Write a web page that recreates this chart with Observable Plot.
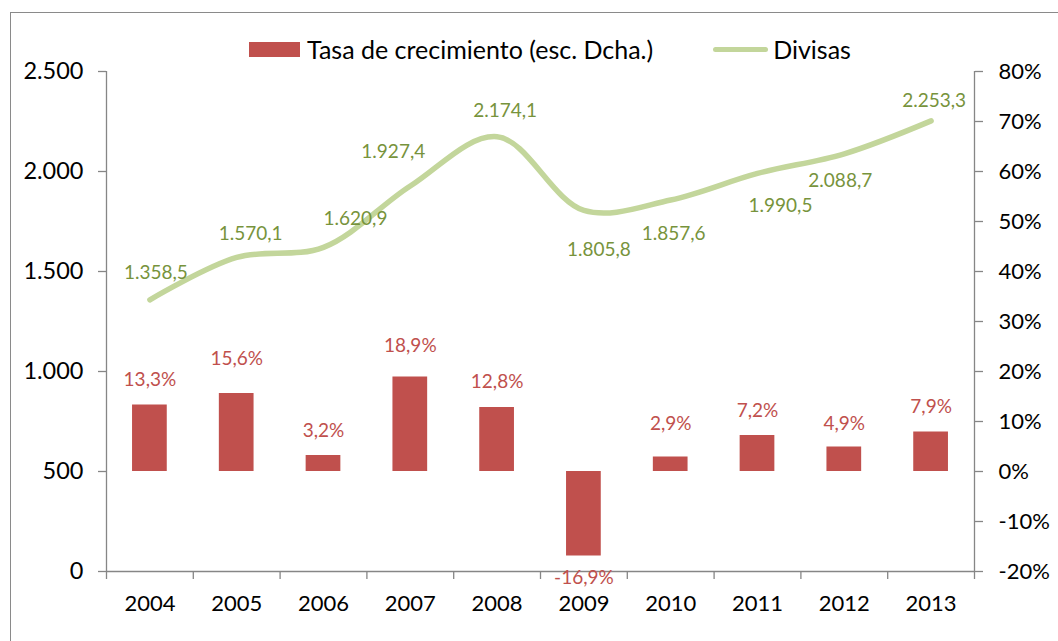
<!DOCTYPE html>
<html>
<head>
<meta charset="utf-8">
<script src="https://cdn.jsdelivr.net/npm/d3@7"></script>
<script src="https://cdn.jsdelivr.net/npm/@observablehq/plot@0.6"></script>
<style>
  html, body { margin: 0; padding: 0; background: #fff; overflow: hidden; }
  body { width: 1058px; height: 641px; position: relative; font-family: Lato, "Open Sans", sans-serif; }
  #frame { position: absolute; left: 10px; top: 12px; width: 1100px; height: 700px; border: 1.5px solid #8a8a8a; box-sizing: border-box; }
  #legend { position: absolute; left: 0; top: 33px; width: 1058px; height: 32px; display: flex; align-items: center; font-size: 25px; color: #000; }
  .sw { display: inline-block; }
  #chart { position: absolute; left: 0; top: 62px; }
</style>
</head>
<body>
<div id="frame"></div>
<div id="legend">
  <span class="sw" style="margin-left:249px;width:51px;height:15px;background:#c0504d;"></span>
  <span style="margin-left:7px;">Tasa de crecimiento (esc. Dcha.)</span>
  <span class="sw" style="margin-left:60px;width:55px;height:5px;border-radius:3px;background:#c3d69b;"></span>
  <span style="margin-left:5px;">Divisas</span>
</div>
<div id="chart"></div>
<script>
// ---- data ----
const years = [2004, 2005, 2006, 2007, 2008, 2009, 2010, 2011, 2012, 2013];
const divisas = [1358.5, 1570.1, 1620.9, 1927.4, 2174.1, 1805.8, 1857.6, 1990.5, 2088.7, 2253.3];
const tasa = [13.3, 15.6, 3.2, 18.9, 12.8, -16.9, 2.9, 7.2, 4.9, 7.9];
const leftTicks = [0, 500, 1000, 1500, 2000, 2500];
const rightTicks = [-20, -10, 0, 10, 20, 30, 40, 50, 60, 70, 80];

// ---- label layout (pixel offsets, not data) ----
const lineLabelOffsets = [[6,-27],[14,-24],[32,-28],[-17,-34],[8,-26],[15,40],[3,34],[23,33],[-4,27],[3,-20]];
const barLabelOffsets = [-25,-35,-25,-31,-26,22,-33,-25,-23,-25];

// right axis (%) mapped onto left-axis units: 0% -> 500, 10% -> 750
const pctToLeft = p => 500 + p * 25;
const leftToPct = v => (v - 500) / 25;

const fmtNum = v => v.toLocaleString("de-DE", {minimumFractionDigits: 1, maximumFractionDigits: 1});
const fmtInt = v => v.toLocaleString("de-DE");
const fmtPct = v => v.toLocaleString("de-DE", {minimumFractionDigits: 1, maximumFractionDigits: 1}) + "%";

const rows = years.map((y, i) => ({year: y, divisas: divisas[i], tasa: tasa[i], i}));
const boundaries = [years[0] - 0.5, ...years.map(y => y + 0.5)];

const axisColor = "#868686";
const red = "#c0504d";
const lightGreen = "#c3d69b";
const darkGreen = "#77933c";

const marks = [
  // bars
  Plot.rectY(rows, {x1: d => d.year - 0.2, x2: d => d.year + 0.2, y1: pctToLeft(0), y2: d => pctToLeft(d.tasa), fill: red}),
  // line
  Plot.line(rows, {x: "year", y: "divisas", stroke: lightGreen, strokeWidth: 5.5, curve: "catmull-rom", strokeLinecap: "round"}),
  // axes lines
  Plot.ruleX([boundaries[0]], {stroke: axisColor, strokeWidth: 1.3}),
  Plot.ruleX([boundaries[boundaries.length - 1]], {stroke: axisColor, strokeWidth: 1.3}),
  Plot.ruleY([0], {stroke: axisColor, strokeWidth: 1.3}),
  Plot.axisY({anchor: "left", ticks: leftTicks, tickFormat: fmtInt, tickSize: 8, tickPadding: 15, fontSize: 23.5, stroke: axisColor, strokeWidth: 1.3, color: "#000", label: null}),
  Plot.axisY({anchor: "right", ticks: rightTicks.map(pctToLeft), tickFormat: v => Math.round(leftToPct(v)) + "%", tickSize: 8, tickPadding: 16, fontSize: 22, stroke: axisColor, strokeWidth: 1.3, label: null}),
  Plot.axisX({ticks: boundaries, tickSize: 8, tickFormat: () => "", stroke: axisColor, strokeWidth: 1.3, label: null}),
  Plot.axisX({ticks: years, tickSize: 0, tickPadding: 24, tickFormat: d => String(d), fontSize: 22, label: null}),
];

// value labels
rows.forEach((d, i) => {
  marks.push(Plot.text([d], {x: "year", y: "divisas", text: r => fmtNum(r.divisas), dx: lineLabelOffsets[i][0], dy: lineLabelOffsets[i][1], fill: darkGreen, fontSize: 19, lineAnchor: "middle", textAnchor: "middle"}));
  marks.push(Plot.text([d], {x: "year", y: r => pctToLeft(r.tasa), text: r => fmtPct(r.tasa), dy: barLabelOffsets[i], fill: red, fontSize: 19, lineAnchor: "middle", textAnchor: "middle"}));
});

const chart = Plot.plot({
  width: 1058,
  height: 579,
  marginLeft: 106,
  marginRight: 84,
  marginTop: 9,
  marginBottom: 70,
  style: {fontFamily: "Lato, 'Open Sans', sans-serif", background: "transparent", overflow: "visible"},
  x: {type: "linear", domain: [boundaries[0], boundaries[boundaries.length - 1]], axis: null},
  y: {domain: [0, 2500], axis: null},
  marks
});
document.getElementById("chart").appendChild(chart);
</script>
</body>
</html>
